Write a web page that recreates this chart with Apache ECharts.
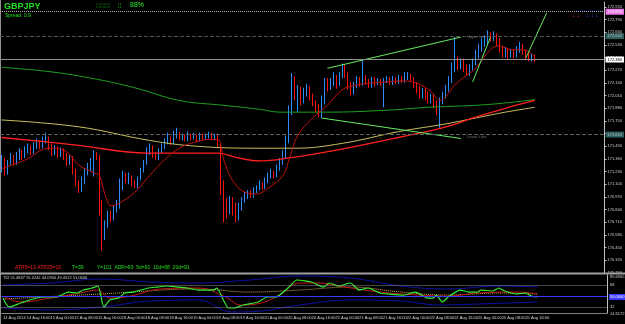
<!DOCTYPE html>
<html><head><meta charset="utf-8">
<script src="https://cdn.jsdelivr.net/npm/echarts/dist/echarts.min.js"></script>
<style>html,body{margin:0;padding:0;background:#000;}#c{width:625px;height:324px;}</style>
</head><body><div id="c"></div>
<script>
const timeLabels = ["14 Aug 2014","14 Aug 16:00","15 Aug 00:00","15 Aug 08:00","15 Aug 16:00","18 Aug 00:00","18 Aug 08:00","18 Aug 16:00","19 Aug 00:00","19 Aug 08:00","19 Aug 16:00","20 Aug 00:00","20 Aug 08:00","20 Aug 16:00","21 Aug 00:00","21 Aug 08:00","21 Aug 16:00","22 Aug 00:00","22 Aug 08:00","22 Aug 16:00","25 Aug 00:00","25 Aug 08:00","25 Aug 16:00"];
const opens = [171.26,171.35,171.24,171.32,171.37,171.32,171.38,171.43,171.39,171.45,
171.48,171.43,171.49,171.53,171.49,171.55,171.57,171.49,171.43,171.47,
171.40,171.45,171.39,171.33,171.37,171.24,171.12,171.06,171.14,171.22,
171.26,171.33,171.40,171.37,170.88,170.61,170.68,170.78,170.75,170.85,
170.88,171.09,171.19,171.14,171.17,171.11,171.09,171.16,171.24,171.33,
171.45,171.48,171.40,171.37,171.45,171.49,171.53,171.57,171.53,171.60,
171.62,171.57,171.59,171.56,171.60,171.57,171.59,171.55,171.60,171.57,
171.59,171.61,171.57,171.60,171.50,171.09,170.88,170.83,170.94,170.85,
170.80,170.88,170.94,170.98,171.01,170.98,171.04,171.06,171.10,171.07,
171.14,171.18,171.22,171.19,171.26,171.33,171.40,171.55,171.86,172.17,
172.01,172.07,171.96,172.05,172.09,172.00,171.93,171.88,171.84,171.96,
172.15,172.09,172.15,172.19,172.13,172.21,172.29,172.22,172.12,172.05,
172.12,172.17,172.13,172.19,172.15,172.11,172.17,172.14,172.16,172.13,
172.17,172.18,172.14,172.18,172.15,172.19,172.16,172.20,172.21,172.17,
172.12,172.07,172.01,172.07,172.00,171.96,172.00,171.93,171.88,171.96,
172.01,172.09,172.17,172.29,172.37,172.31,172.35,172.29,172.25,172.30,
172.35,172.43,172.50,172.54,172.58,172.62,172.60,172.63,172.56,172.48,
172.44,172.48,172.43,172.46,172.43,172.48,172.52,172.46,172.41,172.39,
172.41];
const closes = [171.35,171.24,171.32,171.37,171.32,171.38,171.43,171.39,171.45,171.48,
171.43,171.49,171.53,171.49,171.55,171.57,171.49,171.43,171.47,171.40,
171.45,171.39,171.33,171.37,171.24,171.12,171.06,171.14,171.22,171.26,
171.33,171.40,171.37,170.88,170.61,170.68,170.78,170.75,170.85,170.88,
171.09,171.19,171.14,171.17,171.11,171.09,171.16,171.24,171.33,171.45,
171.48,171.40,171.37,171.45,171.49,171.53,171.57,171.53,171.60,171.62,
171.57,171.59,171.56,171.60,171.57,171.59,171.55,171.60,171.57,171.59,
171.61,171.57,171.60,171.50,171.09,170.88,170.83,170.94,170.85,170.80,
170.88,170.94,170.98,171.01,170.98,171.04,171.06,171.10,171.07,171.14,
171.18,171.22,171.19,171.26,171.33,171.40,171.55,171.86,172.17,172.01,
172.07,171.96,172.05,172.09,172.00,171.93,171.88,171.84,171.96,172.15,
172.09,172.15,172.19,172.13,172.21,172.29,172.22,172.12,172.05,172.12,
172.17,172.13,172.19,172.15,172.11,172.17,172.14,172.16,172.13,172.17,
172.18,172.14,172.18,172.15,172.19,172.16,172.20,172.21,172.17,172.12,
172.07,172.01,172.07,172.00,171.96,172.00,171.93,171.88,171.96,172.01,
172.09,172.17,172.29,172.37,172.31,172.35,172.29,172.25,172.30,172.35,
172.43,172.50,172.54,172.58,172.62,172.60,172.63,172.56,172.48,172.44,
172.48,172.43,172.46,172.43,172.48,172.52,172.46,172.41,172.39,172.41,
172.38];
const lows = [171.22,171.19,171.20,171.30,171.29,171.30,171.35,171.35,171.37,171.42,
171.40,171.41,171.46,171.46,171.47,171.52,171.45,171.39,171.40,171.37,
171.38,171.35,171.29,171.30,171.20,171.08,171.01,171.02,171.10,171.19,
171.23,171.18,171.35,170.78,170.42,170.53,170.65,170.71,170.73,170.81,
170.85,171.04,171.11,171.10,171.08,171.06,171.06,171.14,171.22,171.30,
171.40,171.37,171.35,171.35,171.42,171.46,171.51,171.50,171.51,171.57,
171.55,171.55,171.54,171.54,171.55,171.56,171.53,171.54,171.55,171.56,
171.57,171.55,171.55,171.47,170.99,170.71,170.75,170.79,170.78,170.71,
170.73,170.83,170.91,170.95,170.96,170.96,171.01,171.04,171.04,171.05,
171.11,171.16,171.16,171.17,171.24,171.30,171.37,171.52,171.81,171.96,
171.84,171.91,171.93,172.00,171.96,171.90,171.84,171.79,171.78,171.92,
172.05,172.07,172.11,172.08,172.11,172.19,172.19,172.07,172.01,172.02,
172.09,172.10,172.11,172.12,172.09,172.09,172.11,172.12,172.11,171.89,
172.14,172.12,172.12,172.13,172.13,172.14,172.14,172.17,172.15,172.09,
172.03,171.98,171.98,171.96,171.93,171.93,171.88,171.81,171.68,171.92,
171.98,172.05,172.14,172.25,172.27,172.28,172.25,172.21,172.21,172.27,
172.32,172.39,172.46,172.51,172.54,172.56,172.57,172.52,172.45,172.40,
172.40,172.39,172.40,172.39,172.40,172.45,172.43,172.38,172.36,172.36,
172.35];
const highs = [171.40,171.37,171.35,171.42,171.40,171.43,171.47,171.45,171.49,171.52,
171.50,171.53,171.57,171.55,171.59,171.63,171.59,171.52,171.50,171.49,
171.48,171.47,171.42,171.40,171.39,171.26,171.14,171.18,171.26,171.32,
171.37,171.45,171.43,171.40,170.94,170.73,170.83,170.83,170.88,170.94,
171.16,171.24,171.22,171.22,171.19,171.14,171.18,171.27,171.35,171.48,
171.52,171.50,171.43,171.47,171.52,171.57,171.63,171.59,171.65,171.68,
171.64,171.62,171.61,171.64,171.62,171.63,171.61,171.63,171.62,171.62,
171.64,171.63,171.62,171.62,171.52,171.14,170.96,170.98,170.97,170.91,
170.91,170.97,171.02,171.04,171.04,171.07,171.09,171.14,171.12,171.17,
171.22,171.26,171.24,171.30,171.37,171.45,171.60,171.91,172.24,172.21,
172.12,172.10,172.09,172.13,172.11,172.03,171.96,171.92,172.01,172.19,
172.19,172.19,172.25,172.22,172.25,172.34,172.33,172.25,172.15,172.15,
172.21,172.20,172.37,172.22,172.18,172.20,172.20,172.19,172.18,172.19,
172.21,172.20,172.21,172.20,172.22,172.21,172.25,172.25,172.23,172.20,
172.15,172.11,172.09,172.09,172.05,172.03,172.02,171.96,171.99,172.05,
172.12,172.21,172.35,172.61,172.41,172.39,172.39,172.33,172.33,172.39,
172.48,172.54,172.60,172.63,172.68,172.66,172.67,172.65,172.60,172.52,
172.51,172.50,172.49,172.48,172.52,172.56,172.54,172.48,172.45,172.44,
172.43];
// moving averages: [bar index, price]
const maGreen = [[0,172.30],[15,172.26],[30,172.19],[45,172.09],[60,171.96],[75,171.91],[87,171.87],[94,171.84],[110,171.84],[130,171.86],[144,171.89],[160,171.91],[172,171.94],[180,171.97]];
const maYellow = [[0,171.76],[26,171.69],[50,171.55],[66,171.49],[87,171.47],[99,171.47],[115,171.52],[134,171.64],[150,171.72],[160,171.78],[170,171.84],[180,171.89]];
const maRedSlow = [[0,171.58],[26,171.50],[49,171.42],[73,171.42],[80,171.37],[87,171.34],[97,171.37],[113,171.45],[134,171.58],[150,171.69],[160,171.79],[170,171.88],[180,171.96]];
const maRedFast = [[0,171.26],[8,171.35],[16,171.47],[21,171.45],[26,171.30],[31,171.22],[33,171.19],[35,170.99],[37,170.88],[40,170.91],[45,171.02],[50,171.19],[55,171.35],[60,171.47],[65,171.53],[70,171.56],[73,171.56],[75,171.35],[78,171.14],[82,171.02],[86,171.00],[90,171.06],[95,171.19],[97,171.35],[100,171.60],[105,171.78],[110,171.91],[115,172.07],[120,172.12],[125,172.14],[130,172.15],[135,172.16],[140,172.14],[145,172.05],[148,171.96],[150,172.00],[153,172.12],[157,172.22],[160,172.29],[165,172.48],[168,172.52],[172,172.48],[176,172.48],[180,172.41]];
const trendUpper = [[110,172.29],[155,172.61]];
const trendLower = [[108,171.78],[155,171.57]];
const trendShort = [[159,172.15],[165,172.61]];
const trendRight = [[177,172.40],[184,172.86]];
const levelLines = [172.87, 172.62, 172.38, 171.61];
// TDI values: [bar index, value]
const tdiPrice = [[0,46.7],[2,32.0],[6,38.5],[9,43.5],[13,48.4],[18,48.4],[22,56.5],[25,54.9],[27,59.8],[30,63.1],[32,66.4],[34,32.0],[36,43.5],[39,46.7],[41,54.9],[44,56.5],[49,63.1],[52,64.7],[55,66.4],[59,64.7],[62,63.1],[66,59.8],[71,59.8],[72,63.1],[76,30.4],[78,30.4],[81,35.3],[86,40.2],[89,48.4],[92,48.4],[96,63.1],[99,76.2],[102,74.5],[104,72.9],[108,64.7],[110,71.3],[113,66.4],[117,71.3],[120,59.8],[123,63.1],[127,54.9],[130,53.3],[135,51.6],[139,56.5],[143,46.7],[145,46.7],[146,51.6],[148,40.2],[150,48.4],[154,59.8],[157,56.5],[160,56.5],[161,59.8],[165,58.2],[167,63.1],[169,58.2],[173,53.3],[176,54.9],[178,50.0],[180,48.4]];
const tdiSignal = [[0,50],[6,40.2],[16,46.7],[26,54.9],[32,59.8],[36,46.7],[43,50],[53,61.5],[66,63.1],[75,48.4],[80,35.3],[87,38.5],[93,51.6],[100,71.3],[107,71.3],[113,66.4],[127,56.5],[140,51.6],[150,50],[160,54.9],[174,56.5],[180,53.3]];
const tdiBase = [[0,45.1],[33,53.3],[66,61.5],[83,56.5],[100,59.8],[117,64.7],[134,56.5],[150,51.6],[167,54.9],[180,53.3]];
const tdiUpper = [[0,68],[16,71.3],[33,77.8],[50,72.9],[66,71.3],[83,76.2],[100,82.7],[117,79.4],[134,66.4],[150,61.5],[167,66.4],[180,64.7]];
const tdiLower = [[0,30.4],[16,27.1],[33,32],[50,41.8],[66,43.5],[77,23.8],[87,25.5],[100,35.3],[117,43.5],[134,41.8],[147,35.3],[160,36.9],[180,40.2]];
const tdiLevels = [68, 50, 32];

const BASE = 170.19, N = 204;
const cats = Array.from({length:N},(_,i)=>String(i));
const F = "'Liberation Sans', Arial, sans-serif";
const sh = a => a.map(p => [p[0], +(p[1]-BASE).toFixed(4)]);
const candles = opens.map((o,i)=>[o-BASE, closes[i]-BASE, lows[i]-BASE, highs[i]-BASE]);
const tickShow = i => i%8===0 && i/8 < timeLabels.length;

function ml(v, style, type, lab, bg, fg){
  return {yAxis: v-BASE, lineStyle:{color:style, type:type, width:1},
    label:{show:true, position:'end', distance:1, formatter:lab, backgroundColor:bg, color:fg, fontSize:4, fontFamily:F, padding:[1,2]}};
}
function line(data, color, w, extra){
  return Object.assign({type:'line', data:data, showSymbol:false, smooth:0.4, connectNulls:true, silent:true,
    lineStyle:{color:color, width:w}, z:3, animation:false}, extra||{});
}
const chart = echarts.init(document.getElementById('c'), null, {renderer:'canvas'});
const txt = (x,y,t,size,color,extra) => Object.assign({type:'text', x:x, y:y, silent:true, z:10,
  style:{text:t, fontSize:size, fill:color, fontFamily:F}}, extra||{});
chart.setOption({
  backgroundColor:'#000',
  animation:false,
  grid:[{left:0,right:18,top:2,height:271},{left:0,right:18,top:275,height:38}],
  xAxis:[
    {type:'category', gridIndex:0, data:cats, boundaryGap:true, show:false},
    {type:'category', gridIndex:1, data:cats, boundaryGap:true,
     axisLine:{lineStyle:{color:'#808080'}},
     axisTick:{alignWithLabel:true, interval:tickShow, length:2, lineStyle:{color:'#c0c0c0'}},
     axisLabel:{interval:tickShow, hideOverlap:false, formatter:(v,i)=>timeLabels[i/8]||'', align:'left', fontSize:4, color:'#d0d0d0', margin:3, fontFamily:F},
     splitLine:{show:false}}
  ],
  yAxis:[
    {type:'value', gridIndex:0, position:'right', min:0, max:2.78, interval:0.13, scale:false,
     axisLine:{show:true, lineStyle:{color:'#c0c0c0'}},
     axisTick:{show:true, length:2, lineStyle:{color:'#c0c0c0'}},
     axisLabel:{fontSize:4, color:'#d0d0d0', margin:3, fontFamily:F, showMaxLabel:false,
       formatter:v=>(v+BASE).toFixed(3)},
     splitLine:{show:false}},
    {type:'value', gridIndex:1, position:'right', min:22.2, max:84.4,
     axisLine:{show:true, lineStyle:{color:'#c0c0c0'}}, axisTick:{show:false}, axisLabel:{show:false}, splitLine:{show:false}}
  ],
  series:[
    {type:'candlestick', xAxisIndex:0, yAxisIndex:0, data:candles, barWidth:1.2, z:2, silent:true,
     itemStyle:{color:'#2b8cff', color0:'#ff1010', borderColor:'#2b8cff', borderColor0:'#ff1010', borderWidth:1},
     markLine:{silent:true, symbol:['none','none'], animation:false,
       data:[ ml(levelLines[0],'#b0b0b0','dotted','172.870','#e67ae6','#ffffff'),
              ml(levelLines[1],'#505050','dashed','172.620','#2f5f5f','#c0c0c0'),
              ml(levelLines[2],'#909090','solid','172.380','#ffffff','#000000'),
              ml(levelLines[3],'#606060','dashed','171.610','#2f5f5f','#c0c0c0') ]}},
    line(sh(maGreen),'#1fa01f',1),
    line(sh(maYellow),'#c8c060',1),
    line(sh(maRedSlow),'#ff2020',1.3),
    line(sh(maRedFast),'#c01010',1),
    line(sh(trendUpper),'#66ee66',1,{smooth:false}),
    line(sh(trendLower),'#66ee66',1,{smooth:false}),
    line(sh(trendShort),'#66ee66',1,{smooth:false}),
    line(sh(trendRight),'#66ee66',1,{smooth:false}),
    line(tdiUpper,'#1010a8',1,{xAxisIndex:1,yAxisIndex:1}),
    line(tdiLower,'#1010a8',1,{xAxisIndex:1,yAxisIndex:1}),
    line(tdiBase,'#d0b050',1,{xAxisIndex:1,yAxisIndex:1, lineStyle:{color:'#d0b050',width:1,type:'dotted'}}),
    line(tdiSignal,'#c01818',1,{xAxisIndex:1,yAxisIndex:1}),
    line(tdiPrice,'#33ee33',1.2,{xAxisIndex:1,yAxisIndex:1, smooth:0.2,
      markLine:{silent:true, symbol:['none','none'], animation:false, label:{show:false},
        data:[{yAxis:tdiLevels[0], lineStyle:{color:'#909090',type:'dotted',width:1}},
              {yAxis:tdiLevels[1], lineStyle:{color:'#3a3aff',type:'solid',width:1}},
              {yAxis:tdiLevels[2], lineStyle:{color:'#909090',type:'dotted',width:1}}]}})
  ],
  graphic:[
    {type:'line', shape:{x1:0.5,y1:0,x2:0.5,y2:324}, style:{stroke:'#909090',lineWidth:1}, silent:true},
    {type:'line', shape:{x1:0,y1:273.5,x2:625,y2:273.5}, style:{stroke:'#a0a0a0',lineWidth:2}, silent:true, z:5},
    txt(4,2,'GBPJPY',9,'#20e020',{style:{text:'GBPJPY',fontSize:9,fontWeight:'bold',fill:'#20e020',fontFamily:F}}),
    txt(5,13,'Spread: 0.9',5,'#20e020'),
    txt(96,3,'¦¦¦¦¦¦¦¦¦¦¦',5,'#0f6f0f'),
    txt(118,2,'¦¦',6,'#20c020'),
    txt(130,2,'88%',7,'#30f030'),
    txt(15,265,'ATR5=13 ATR25=15',5,'#ff2020'),
    txt(72,265,'T=39',5,'#20e020'),
    txt(97,265,'Y=101  ADR=93  5d=91  10d=88  20d=91',5,'#20e020'),
    txt(3,276,'TDI 51.4837 55.0242 44.0950 49.4522 51.0606',4,'#d0d0d0'),
    txt(467,35,'Upper Line',4,'#707070'),
    txt(467,135,'Lower Line',4,'#707070'),
    txt(610,275,'85.6905',4,'#d0d0d0'),
    txt(610,283,'68',4,'#d0d0d0'),
    {type:'text', x:609, y:294, silent:true, z:10, style:{text:'50.0000', fontSize:4, fill:'#ffffff', fontFamily:F, backgroundColor:'#3a3aff', padding:[1,1]}},
    txt(610,305,'32',4,'#d0d0d0'),
    txt(610,312,'14.6172',4,'#d0d0d0'),
    {type:'line', shape:{x1:576,y1:11,x2:606,y2:11}, style:{stroke:'#2020c0',lineWidth:1,lineDash:[1,1]}, silent:true},
    txt(572,12,'↓ ↓',6,'#ff3030'),
    txt(586,12,'↓ ↓ ↓',6,'#3050ff')
  ]
});
</script></body></html>
